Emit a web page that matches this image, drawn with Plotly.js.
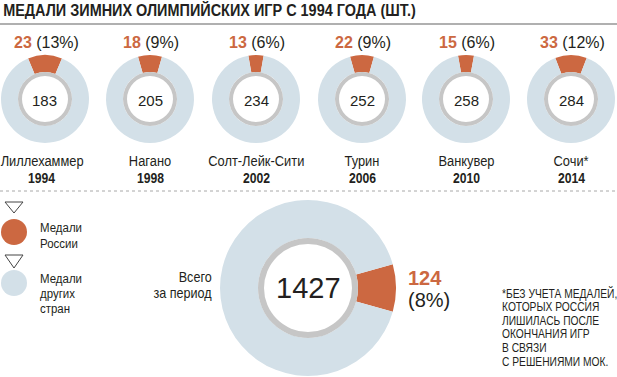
<!DOCTYPE html>
<html>
<head>
<meta charset="utf-8">
<script src="https://cdn.plot.ly/plotly-3.0.1.min.js"></script>
<style>html,body{margin:0;padding:0;background:#fff}#chart{width:617px;height:377px}</style>
</head>
<body>
<div id="chart"></div>
<script>
// ---- data ----
const years = ['1994', '1998', '2002', '2006', '2010', '2014'];
const cities = ['Лиллехаммер', 'Нагано', 'Солт-Лейк-Сити', 'Турин', 'Ванкувер', 'Сочи*'];
const totalMedals = [183, 205, 234, 252, 258, 284];
const russiaMedals = [23, 18, 13, 22, 15, 33];
const russiaPct = [13, 9, 6, 9, 6, 12];
const periodTotal = 1427;
const periodRussia = 124;
const periodPct = 8;
const titleText = 'МЕДАЛИ ЗИМНИХ ОЛИМПИЙСКИХ ИГР С 1994 ГОДА (ШТ.)';
const legendRussia = ['Медали', 'России'];
const legendOthers = ['Медали', 'других', 'стран'];
const periodLabel = ['Всего', 'за период'];
const footnote = ['*БЕЗ УЧЕТА МЕДАЛЕЙ,', 'КОТОРЫХ РОССИЯ', 'ЛИШИЛАСЬ ПОСЛЕ', 'ОКОНЧАНИЯ ИГР', 'В СВЯЗИ', 'С РЕШЕНИЯМИ МОК.'];

// ---- styling / layout ----
const W = 617, H = 377;
const ORANGE = '#CC6841', BLUE = '#D3E0E8', GRAY = '#C6C6C6', TXT = '#231F20';
const SANS = '"Liberation Sans", Arial, Helvetica, sans-serif';
const px = x => x / W;
const py = y => 1 - y / H;
const dom = (cx, cy, r) => ({x: [px(cx - r), px(cx + r)], y: [py(cy + r), py(cy - r)]});

const smallCX = [45, 150, 256, 362, 466, 571];
const smallCY = 99, smallR = 44, smallRing = 27, smallInner = 23;
const bigCX = 308, bigCY = 288, bigR = 88, bigRing = 50, bigInner = 44;

const traces = [];
const annotations = [];
const squeeze = [];   // horizontal condensing factor per annotation (narrow typeface look)
const shapes = [];

function donut(cx, cy, R, ringR, innerR, russia, total, centerAngle) {
  const frac = russia / total;
  traces.push({
    type: 'pie', values: [russia, total - russia], sort: false, direction: 'clockwise',
    rotation: centerAngle - frac * 180, hole: ringR / R,
    marker: {colors: [ORANGE, BLUE], line: {width: 0}},
    textinfo: 'none', hoverinfo: 'skip', domain: dom(cx, cy, R)
  });
  traces.push({
    type: 'pie', values: [1], sort: false, hole: innerR / ringR,
    marker: {colors: [GRAY], line: {width: 0}},
    textinfo: 'none', hoverinfo: 'skip', domain: dom(cx, cy, ringR)
  });
}

function ann(x, y, text, size, opts, sq, color) {
  annotations.push(Object.assign({
    xref: 'paper', yref: 'paper', x: px(x), y: py(y), text: text, showarrow: false,
    xanchor: 'center', yanchor: 'middle', font: {size: size, family: SANS, color: color || TXT}
  }, opts || {}));
  squeeze.push(sq || 1);
}

// small donuts
years.forEach((yr, i) => {
  const cx = smallCX[i];
  donut(cx, smallCY, smallR, smallRing, smallInner, russiaMedals[i], totalMedals[i], 0);
  ann(cx + 1, 43, `<b><span style="color:${ORANGE}">${russiaMedals[i]}</span></b> (${russiaPct[i]}%)`, 16);
  ann(cx, 100, String(totalMedals[i]), 15);
  ann(cx - (i === 0 ? 3 : 0), 161, cities[i], 14, null, 0.92);
  ann(cx - (i === 0 ? 3 : 0), 177.5, `<b>${yr}</b>`, 14, null, 0.87);
});

// big donut
donut(bigCX, bigCY, bigR, bigRing, bigInner, periodRussia, periodTotal, 90);
ann(bigCX, 288, String(periodTotal), 29);
ann(406, 278, `<b>${periodRussia}</b>`, 20, {xanchor: 'left'}, 1, ORANGE);
ann(406, 300, `(${periodPct}%)`, 20, {xanchor: 'left'});
periodLabel.forEach((t, k) => ann(214, 277 + k * 16, t, 14, {xanchor: 'right'}, 0.9));

// title
ann(1, 11, `<b>${titleText}</b>`, 17, {xanchor: 'left'}, 0.85);

// legend
legendRussia.forEach((t, k) => ann(38, 228 + k * 15, t, 13.5, {xanchor: 'left'}, 0.85));
legendOthers.forEach((t, k) => ann(38, 278 + k * 15, t, 13.5, {xanchor: 'left'}, 0.85));

// footnote
footnote.forEach((t, k) => ann(500, 293 + k * 13.8, t, 12.5, {xanchor: 'left'}, 0.82));

// decorative shapes
shapes.push({type: 'line', xref: 'paper', yref: 'paper', x0: 0, x1: 1, y0: py(24), y1: py(24), line: {color: '#B0B0B0', width: 2}});
shapes.push({type: 'line', xref: 'paper', yref: 'paper', x0: 0, x1: 1, y0: py(191), y1: py(191), line: {color: '#A8A8A8', width: 1, dash: 'dot'}});
function tri(x0, x1, y0, y1) {
  const xm = (x0 + x1) / 2;
  shapes.push({type: 'path', xref: 'paper', yref: 'paper',
    path: `M ${px(x0)} ${py(y0)} L ${px(x1)} ${py(y0)} L ${px(xm)} ${py(y1)} Z`,
    line: {color: '#444', width: 1}, fillcolor: 'rgba(0,0,0,0)'});
}
tri(5, 23, 202, 213);
tri(5, 23, 255, 268);
function circ(cx, cy, r, color) {
  shapes.push({type: 'circle', xref: 'paper', yref: 'paper', x0: px(cx - r), x1: px(cx + r), y0: py(cy + r), y1: py(cy - r),
    fillcolor: color, line: {width: 0}});
}
circ(14, 232, 13, ORANGE);
circ(14, 283, 13, BLUE);

const layout = {
  width: W, height: H, margin: {l: 0, r: 0, t: 0, b: 0},
  paper_bgcolor: '#fff', plot_bgcolor: '#fff', showlegend: false,
  annotations: annotations, shapes: shapes
};
Plotly.newPlot('chart', traces, layout, {staticPlot: true, displayModeBar: false}).then(gd => {
  gd.querySelectorAll('g.annotation').forEach(g => {
    const idx = +g.getAttribute('data-index');
    const s = squeeze[idx];
    if (!s || s === 1) return;
    const t = g.querySelector('text.annotation-text');
    if (!t) return;
    const bb = t.getBBox();
    const a = annotations[idx];
    const ax = a.xanchor === 'left' ? bb.x : a.xanchor === 'right' ? bb.x + bb.width : bb.x + bb.width / 2;
    t.setAttribute('transform', `translate(${ax},0) scale(${s},1) translate(${-ax},0)`);
  });
});
</script>
</body>
</html>
